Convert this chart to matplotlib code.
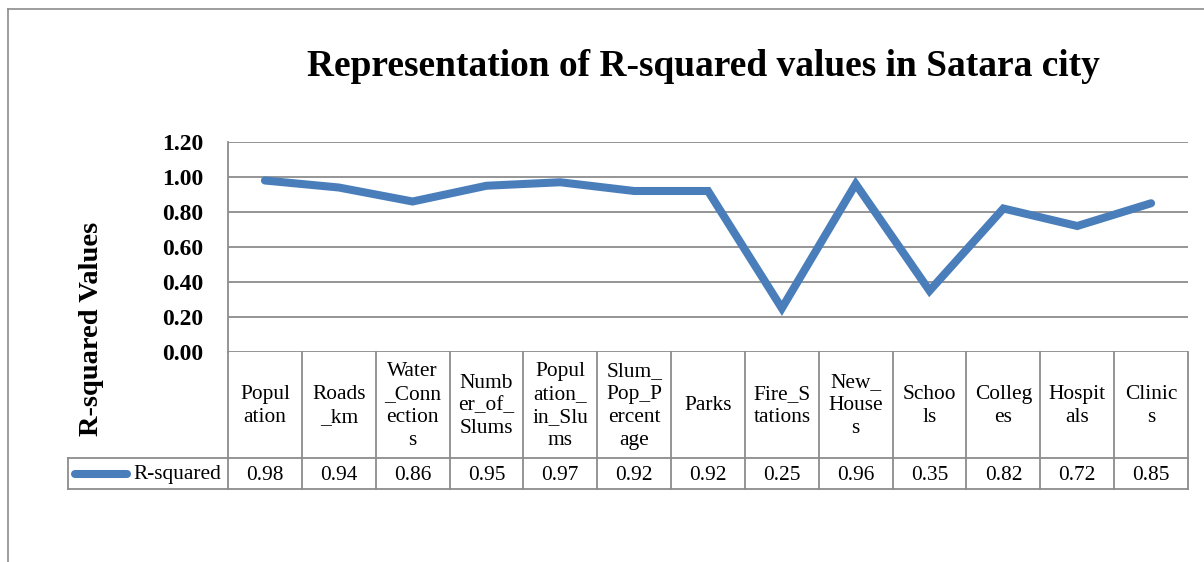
import matplotlib
matplotlib.use("Agg")
import matplotlib.pyplot as plt
from matplotlib.lines import Line2D

plt.rcParams['font.family'] = ['Liberation Serif', 'DejaVu Serif']

categories = ["Popul\nation", "Roads\n_km", "Water\n_Conn\nection\ns", "Numb\ner_of_\nSlums",
              "Popul\nation_\nin_Slu\nms", "Slum_\nPop_P\nercent\nage", "Parks", "Fire_S\ntations",
              "New_\nHouse\ns", "Schoo\nls", "Colleg\nes", "Hospit\nals", "Clinic\ns"]
r_squared = [0.98, 0.94, 0.86, 0.95, 0.97, 0.92, 0.92, 0.25, 0.96, 0.35, 0.82, 0.72, 0.85]
yticks = [0.0, 0.2, 0.4, 0.6, 0.8, 1.0, 1.2]
series_name = "R-squared"

W, H = 1204, 562
blue = '#4A7EBB'
grid_c = '#8C8C8C'
tfs = 15.4

fig = plt.figure(figsize=(W / 100, H / 100), dpi=100)

# plot area in pixel terms
left_px, right_px, top_px, bot_px = 228, 1188, 142, 352
ax = fig.add_axes([left_px / W, 1 - bot_px / H, (right_px - left_px) / W, (bot_px - top_px) / H])

n = len(categories)
x = list(range(n))
ax.plot(x, r_squared, color=blue, lw=5.8, solid_capstyle='round', solid_joinstyle='miter', zorder=3)

ax.set_xlim(-0.5, n - 0.5)
ax.set_ylim(0, 1.2)
ax.set_yticks(yticks)
ax.set_yticklabels(['%.2f' % v for v in yticks], fontsize=17, fontweight='bold')
ax.set_xticks([])
ax.tick_params(axis='y', length=0, pad=18)
for s in ['top', 'right', 'bottom']:
    ax.spines[s].set_visible(False)
ax.spines['left'].set_color(grid_c)
ax.spines['left'].set_linewidth(1.3)
ax.grid(axis='y', color=grid_c, lw=1.3)
ax.set_axisbelow(True)

fig.text(91 / W, 1 - 329 / H, "R-squared Values", rotation=90, ha='center', va='center',
         fontsize=20.5, fontweight='bold')

# data table under the plot
tr = ax.get_xaxis_transform()
colw = (right_px - left_px) / n


def ya(py):
    return (bot_px - py) / (bot_px - top_px)


def xd(px):
    return (px - left_px) / colw - 0.5


row1, row2 = 458, 489
lk = dict(color=grid_c, lw=1.3, transform=tr, clip_on=False)
ax.plot([xd(68), n - 0.5], [ya(row1), ya(row1)], **lk)
ax.plot([xd(68), n - 0.5], [ya(row2), ya(row2)], **lk)
ax.plot([-0.5, -0.5], [0, ya(row2)], **lk)
ax.plot([xd(68), xd(68)], [ya(row1), ya(row2)], **lk)
for i in range(1, n + 1):
    ax.plot([i - 0.5, i - 0.5], [0, ya(row2)], **lk)

for i, (lab, v) in enumerate(zip(categories, r_squared)):
    ax.text(i, ya(406), lab, transform=tr, ha='center', va='center',
            fontsize=tfs, linespacing=1.28, clip_on=False)
    ax.text(i, ya(475), '%.2f' % v, transform=tr, ha='center', va='center',
            fontsize=tfs, clip_on=False)

# legend key in the table
ax.plot([xd(75), xd(127)], [ya(473.5), ya(473.5)], color=blue, lw=5.8,
        solid_capstyle='round', transform=tr, clip_on=False)
ax.text(xd(221), ya(475), series_name, transform=tr, ha='right', va='center',
        fontsize=tfs, clip_on=False)

fig.text(703 / W, 1 - 67 / H, "Representation of R-squared values in Satara city",
         ha='center', va='center', fontsize=26.9, fontweight='bold')

# outer chart frame
fig.add_artist(Line2D([8 / W, 8 / W], [0, 1 - 9 / H], color='#8C8C8C', lw=1.2, transform=fig.transFigure))
fig.add_artist(Line2D([8 / W, 1], [1 - 9 / H, 1 - 9 / H], color='#8C8C8C', lw=1.2, transform=fig.transFigure))

fig.savefig('out.png', dpi=100)
